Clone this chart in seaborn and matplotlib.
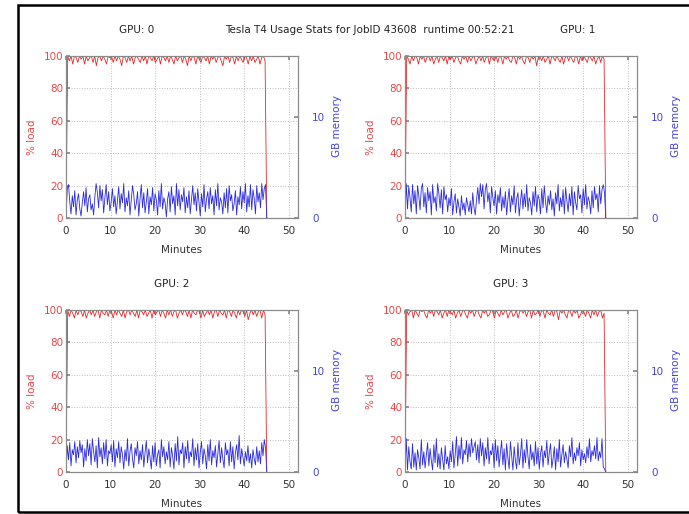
"""GPU usage stats, 2x2 panels of load (left axis) and memory (right axis)."""
import matplotlib
matplotlib.use("Agg")
import matplotlib.pyplot as plt
import matplotlib.patches as mpatches
import numpy as np
import seaborn as sns

# ---------------------------------------------------------------------------
# Data
# ---------------------------------------------------------------------------
GPU_NAMES = ["GPU: 0", "GPU: 1", "GPU: 2", "GPU: 3"]
TITLE = "Tesla T4 Usage Stats for JobID 43608  runtime 00:52:21"
RUN_END_MIN = 45.0

load_gpu0 = [0, 100, 97, 100, 95, 100, 99, 96, 100, 98, 100, 95, 100, 97, 99, 100, 96, 100, 94, 99,
             100, 97, 100, 98, 95, 100, 99, 100, 96, 100, 97, 100, 98, 94, 100, 99, 96, 100, 97, 100,
             95, 99, 100, 98, 96, 100, 97, 100, 95, 100, 99, 97, 100, 96, 98, 100, 95, 100, 99, 97,
             100, 96, 100, 98, 95, 100, 97, 99, 100, 96, 100, 98, 94, 100, 97, 100, 99, 95, 100, 98,
             96, 100, 99, 97, 100, 95, 100, 98, 100, 96, 99, 100, 97, 94, 100, 98, 100, 96, 100, 99,
             95, 100, 97, 100, 98, 96, 100, 99, 95, 100, 97, 100, 96, 98, 100, 95, 99, 100, 97, 0]
load_gpu1 = [0, 100, 98, 95, 100, 97, 100, 99, 95, 100, 98, 100, 96, 99, 100, 97, 100, 95, 98, 100,
             96, 100, 99, 97, 100, 95, 100, 98, 100, 96, 99, 100, 97, 95, 100, 98, 100, 96, 100, 97,
             99, 100, 95, 98, 100, 97, 100, 96, 99, 100, 95, 100, 98, 97, 100, 96, 100, 99, 95, 100,
             98, 100, 97, 96, 100, 99, 95, 100, 98, 100, 97, 95, 100, 99, 96, 100, 98, 100, 94, 99,
             100, 97, 100, 96, 98, 100, 95, 100, 99, 97, 100, 98, 96, 100, 95, 99, 100, 97, 100, 98,
             96, 100, 99, 95, 100, 97, 100, 98, 96, 100, 99, 97, 100, 95, 98, 100, 96, 100, 98, 0]
load_gpu2 = [0, 100, 96, 100, 98, 95, 100, 97, 100, 99, 96, 100, 95, 98, 100, 97, 100, 96, 99, 100,
             95, 100, 98, 97, 100, 96, 100, 99, 95, 100, 97, 100, 98, 96, 100, 95, 99, 100, 97, 100,
             98, 96, 100, 95, 100, 99, 97, 100, 96, 98, 100, 95, 100, 97, 99, 100, 96, 100, 98, 95,
             100, 97, 100, 96, 99, 100, 95, 98, 100, 97, 100, 99, 96, 100, 95, 100, 98, 97, 100, 99,
             95, 100, 96, 98, 100, 97, 100, 95, 99, 100, 96, 100, 98, 97, 100, 95, 100, 99, 96, 100,
             98, 95, 100, 97, 100, 99, 96, 100, 94, 98, 100, 97, 100, 96, 99, 100, 95, 100, 97, 0]
load_gpu3 = [0, 100, 97, 99, 100, 95, 100, 98, 96, 100, 99, 100, 97, 95, 100, 98, 100, 96, 100, 99,
             97, 100, 95, 98, 100, 96, 100, 99, 97, 100, 95, 98, 100, 96, 99, 100, 97, 95, 100, 98,
             100, 96, 99, 100, 97, 95, 100, 98, 100, 96, 97, 100, 99, 95, 100, 98, 96, 100, 97, 99,
             100, 95, 98, 100, 96, 97, 100, 95, 99, 100, 98, 100, 96, 99, 100, 95, 100, 97, 98, 100,
             96, 100, 99, 95, 100, 98, 97, 100, 96, 100, 99, 94, 100, 98, 100, 97, 95, 100, 99, 96,
             100, 98, 100, 95, 97, 100, 99, 96, 100, 98, 95, 100, 97, 100, 96, 99, 100, 95, 98, 0]

mem_gpu0 = [0.0, 2.9, 3.3, 1.6, 0.4, 2.2, 1.1, 2.7, 0.3, 1.8, 2.4, 0.9, 0.2, 1.5, 2.6, 1.2, 3.0, 0.6, 1.9, 2.3,
            0.8, 1.4, 0.3, 2.1, 3.4, 2.5, 1.0, 3.2, 1.7, 2.8, 0.5, 2.0, 3.3, 1.3, 2.6, 0.7, 1.6, 2.9, 1.1, 2.2,
            0.4, 1.8, 3.1, 0.9, 2.4, 1.5, 3.4, 0.6, 2.0, 1.2, 2.7, 0.3, 1.7, 3.2, 2.3, 0.8, 1.4, 2.6, 0.2, 1.9,
            3.3, 1.0, 2.5, 0.5, 1.6, 2.9, 0.4, 2.1, 1.3, 3.0, 0.7, 2.4, 1.8, 0.3, 2.7, 1.1, 3.4, 0.9, 2.0, 1.5,
            0.1, 1.9, 2.6, 0.6, 3.1, 1.4, 2.2, 0.3, 3.4, 1.2, 2.8, 0.8, 2.3, 1.6, 3.0, 0.5, 2.1, 1.0, 2.7, 0.4,
            1.8, 3.2, 1.3, 2.5, 0.7, 2.9, 1.5, 0.2, 2.4, 1.1, 3.3, 0.6, 1.9, 2.6, 0.9, 3.0, 1.4, 2.2, 0.3, 2.8,
            1.2, 3.4, 0.8, 2.0, 1.6, 0.4, 2.5, 1.0, 2.9, 0.5, 3.2, 1.7, 2.3, 0.7, 1.4, 2.7, 0.3, 2.1, 1.3, 3.1,
            0.9, 2.6, 1.5, 3.4, 0.6, 2.2, 1.1, 3.3, 0.8, 2.8, 1.9, 0.4, 3.2, 1.6, 2.5, 1.0, 3.4, 1.8, 2.9, 3.3,
            0.0]
mem_gpu1 = [0.0, 3.4, 0.9, 3.1, 2.0, 0.6, 3.3, 1.4, 2.7, 0.4, 3.2, 2.2, 0.8, 2.9, 3.4, 1.1, 2.5, 0.5, 3.0, 1.7,
            2.6, 0.3, 3.3, 1.5, 2.1, 0.7, 3.4, 2.4, 1.0, 2.8, 0.4, 3.1, 1.8, 2.3, 0.6, 2.0, 1.2, 2.9, 0.3, 1.6,
            2.4, 0.5, 1.9, 1.1, 0.2, 2.2, 0.8, 1.5, 0.3, 2.0, 1.3, 0.6, 1.7, 0.4, 2.5, 1.0, 0.3, 1.8, 3.0, 1.4,
            3.4, 2.1, 3.3, 0.9, 2.8, 3.4, 1.6, 2.5, 0.5, 3.1, 2.0, 1.2, 2.7, 0.4, 2.3, 1.5, 3.0, 0.7, 2.1, 1.0,
            2.6, 0.3, 1.8, 2.9, 0.6, 2.2, 1.3, 3.2, 0.5, 1.9, 2.5, 0.2, 1.6, 2.8, 0.9, 2.4, 1.1, 3.3, 0.7, 2.0,
            1.5, 0.3, 2.6, 1.2, 3.1, 0.6, 2.3, 1.8, 0.4, 2.9, 1.0, 3.2, 1.6, 0.5, 2.2, 1.3, 2.7, 0.8, 1.9, 0.2,
            2.5, 1.4, 3.3, 0.7, 2.0, 1.1, 2.8, 0.4, 3.0, 1.7, 0.6, 2.4, 1.2, 3.1, 0.3, 2.6, 1.5, 0.8, 3.2, 1.9,
            2.3, 0.5, 2.9, 1.3, 3.3, 0.9, 2.1, 1.6, 0.4, 2.7, 1.0, 3.1, 1.8, 2.4, 0.6, 3.2, 1.4, 2.8, 3.3, 2.5,
            0.0]
mem_gpu2 = [0.0, 2.6, 1.2, 2.9, 0.6, 2.2, 1.7, 3.0, 0.9, 2.5, 1.4, 3.1, 1.9, 2.7, 0.5, 2.3, 1.1, 3.2, 1.6, 2.8,
            0.7, 3.3, 2.0, 1.0, 2.6, 0.4, 3.4, 1.5, 2.4, 0.8, 2.9, 1.3, 3.2, 0.6, 2.1, 1.8, 2.7, 1.0, 3.1, 0.5,
            2.3, 1.4, 3.0, 0.9, 2.5, 1.7, 0.3, 2.2, 1.1, 3.3, 0.6, 2.0, 2.8, 1.3, 0.4, 2.4, 1.6, 3.0, 0.8, 2.1,
            1.2, 2.7, 0.5, 1.9, 3.1, 0.9, 2.3, 1.4, 0.3, 2.6, 1.0, 2.9, 0.6, 1.7, 2.2, 0.4, 3.2, 1.5, 2.5, 0.8,
            2.0, 1.2, 3.0, 0.5, 2.4, 1.6, 0.3, 2.8, 1.1, 3.5, 0.7, 2.2, 1.8, 2.9, 0.4, 2.5, 1.3, 3.1, 0.9, 2.0,
            1.5, 3.3, 0.6, 2.4, 1.2, 2.8, 0.4, 1.9, 3.0, 0.8, 2.3, 1.6, 0.3, 2.7, 1.1, 3.2, 0.7, 2.1, 1.4, 2.6,
            0.5, 1.8, 3.1, 0.9, 2.4, 1.3, 0.4, 2.9, 1.7, 2.2, 0.6, 3.0, 1.0, 2.5, 0.3, 1.9, 2.7, 1.2, 3.6, 0.8,
            2.3, 1.5, 0.6, 2.0, 1.1, 2.6, 0.9, 1.8, 0.4, 2.2, 1.3, 0.7, 2.5, 1.0, 2.1, 0.8, 2.9, 1.6, 3.2, 2.4,
            0.0]
mem_gpu3 = [0.0, 3.3, 0.2, 2.5, 1.0, 0.3, 2.8, 0.5, 1.9, 0.2, 2.2, 1.4, 0.3, 3.2, 0.7, 2.0, 0.4, 1.6, 2.9, 0.6,
            2.3, 1.1, 0.2, 2.7, 0.9, 3.3, 0.5, 1.8, 0.3, 2.4, 1.2, 0.2, 2.6, 0.8, 1.5, 0.3, 2.1, 1.0, 3.0, 0.4,
            1.7, 3.5, 0.6, 2.6, 1.3, 3.4, 0.8, 2.2, 1.7, 3.1, 1.0, 2.8, 1.5, 3.3, 1.9, 2.5, 3.0, 1.2, 2.7, 0.9,
            3.3, 1.6, 2.9, 0.6, 2.4, 1.3, 3.4, 0.8, 2.1, 1.7, 2.8, 0.4, 3.2, 1.1, 2.6, 0.5, 1.9, 3.1, 0.7, 2.3,
            0.2, 2.8, 1.4, 0.3, 3.0, 1.6, 0.2, 2.5, 1.1, 0.3, 2.9, 0.7, 1.7, 3.3, 0.4, 2.2, 0.9, 3.2, 1.5, 0.3,
            2.7, 1.2, 2.0, 0.6, 3.0, 0.8, 2.4, 0.3, 1.8, 2.6, 0.5, 2.1, 1.4, 3.1, 0.7, 1.9, 2.8, 0.4, 1.3, 2.5,
            0.2, 2.3, 1.0, 3.2, 0.5, 1.7, 2.7, 0.9, 2.0, 1.3, 0.4, 2.6, 1.5, 3.4, 0.8, 1.9, 1.1, 2.4, 1.6, 2.9,
            0.6, 2.2, 1.2, 1.8, 0.9, 2.5, 1.4, 3.3, 1.0, 2.1, 1.6, 2.6, 1.3, 3.4, 1.1, 2.0, 1.4, 3.3, 0.5, 0.3,
            0.0]

LOADS = [load_gpu0, load_gpu1, load_gpu2, load_gpu3]
MEMS = [mem_gpu0, mem_gpu1, mem_gpu2, mem_gpu3]

X_TICKS = [0, 10, 20, 30, 40, 50]
LOAD_TICKS = [0, 20, 40, 60, 80, 100]
MEM_TICKS = [0, 10]

# ---------------------------------------------------------------------------
# Style
# ---------------------------------------------------------------------------
sns.set_theme(style="white")
plt.rcParams["font.family"] = ["DejaVu Sans"]

RED = "#e62828"
BLUE = "#2a2ae0"
RED_TXT = "#e84848"
BLUE_TXT = "#4444dd"
SPINE = "#8a8a8a"
FS = 7.5

W, H = 689, 514
fig = plt.figure(figsize=(W / 100, H / 100), dpi=100)

# outer black frame (cut off on the right, as in the reference)
fig.patches.append(mpatches.Rectangle((18 / W, 2 / H), 1.0, (H - 7) / H, transform=fig.transFigure,
                                      fill=False, edgecolor="black", linewidth=1.8))

# axes boxes in pixels: left, top
panel_px = [(66, 56), (405, 56), (66, 310), (405, 310)]
AX_W, AX_H = 232, 162
title_px = [(137, 30), (578, 30), (172, 284), (511, 284)]


def sample_times(values):
    # samples are evenly spaced over the job's active period
    return np.linspace(0, RUN_END_MIN, len(values))


for i, ((lx, ty), name) in enumerate(zip(panel_px, GPU_NAMES)):
    ax = fig.add_axes([lx / W, (H - ty - AX_H) / H, AX_W / W, AX_H / H])
    ax2 = ax.twinx()

    sns.lineplot(x=sample_times(LOADS[i]), y=LOADS[i], ax=ax, color=RED, linewidth=0.6,
                 estimator=None, sort=False)
    sns.lineplot(x=sample_times(MEMS[i]), y=MEMS[i], ax=ax2, color=BLUE, linewidth=0.6,
                 estimator=None, sort=False)

    ax.set_xlim(0, 52)
    ax.set_ylim(0, 100)
    ax2.set_ylim(0, 16)
    ax.set_xticks(X_TICKS)
    ax.set_yticks(LOAD_TICKS)
    ax2.set_yticks(MEM_TICKS)

    ax.grid(True, linestyle=":", color="#bdbdbd", linewidth=0.7)
    ax2.grid(False)
    for a in (ax, ax2):
        for sp in a.spines.values():
            sp.set_color(SPINE)
            sp.set_linewidth(0.8)

    ax.tick_params(axis="x", direction="in", length=3, color=SPINE, labelsize=FS,
                   labelcolor="#333333", pad=6, top=True)
    ax.tick_params(axis="y", direction="in", length=3, color=SPINE, labelsize=FS,
                   labelcolor=RED_TXT, pad=2)
    ax2.tick_params(axis="y", direction="in", length=3, color=SPINE, labelsize=FS,
                    labelcolor=BLUE_TXT, pad=10)
    ax.set_xlabel("")
    ax.set_ylabel("")
    ax2.set_ylabel("")

    # gnuplot-style labels placed in figure pixels
    fig.text((lx - 34) / W, 1 - (ty + 81) / H, "% load", rotation=90, color=RED_TXT,
             fontsize=FS, ha="center", va="center")
    fig.text((lx + 271) / W, 1 - (ty + 70) / H, "GB memory", rotation=90, color=BLUE_TXT,
             fontsize=FS, ha="center", va="center")
    fig.text((lx + 116) / W, 1 - (ty + 194) / H, "Minutes", color="#333333",
             fontsize=FS, ha="center", va="center")
    tx, tyy = title_px[i]
    fig.text(tx / W, 1 - tyy / H, name, color="#222222", fontsize=FS, ha="center", va="center")

fig.text(370 / W, 1 - 30 / H, TITLE, color="#222222", fontsize=FS, ha="center", va="center")

fig.savefig("out.png", dpi=100)
